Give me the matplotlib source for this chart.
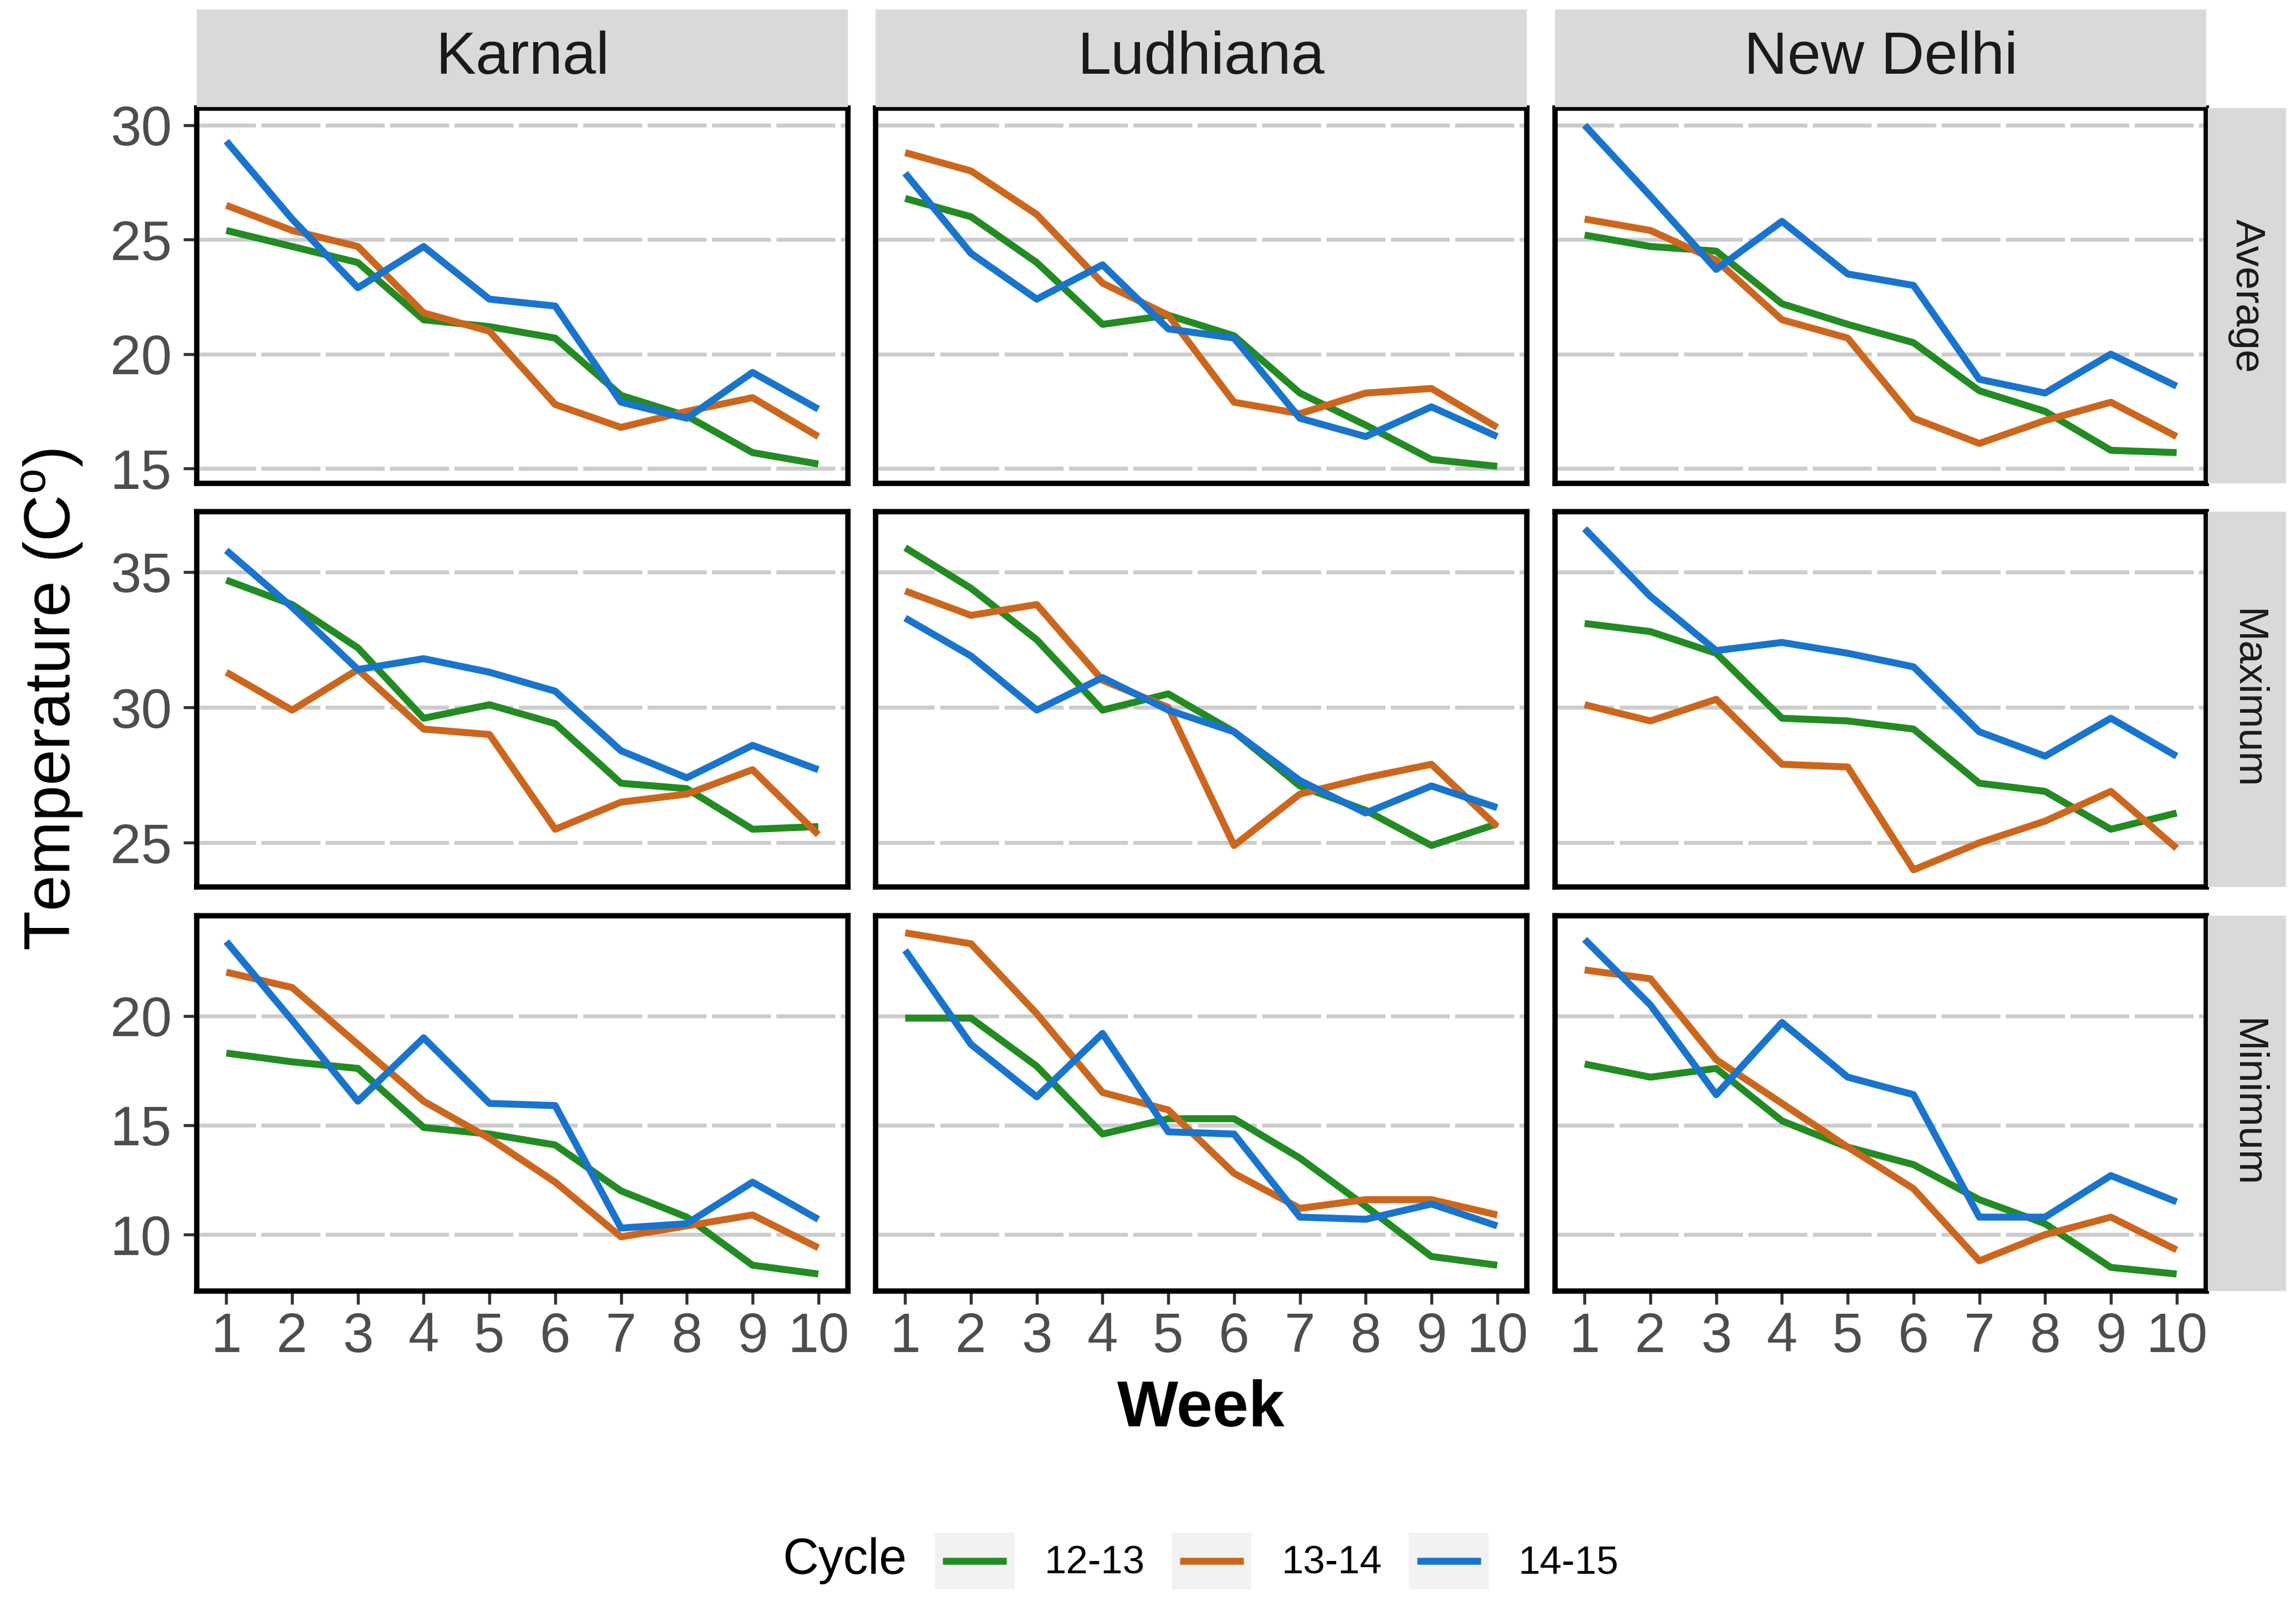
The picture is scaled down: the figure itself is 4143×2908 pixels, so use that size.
import matplotlib
matplotlib.use("Agg")
import matplotlib.pyplot as plt
from matplotlib.lines import Line2D
from matplotlib.patches import Rectangle
from matplotlib.ticker import MultipleLocator

plt.rcParams["font.family"] = ["Liberation Sans", "DejaVu Sans"]
plt.rcParams["mathtext.fontset"] = "custom"
plt.rcParams["mathtext.rm"] = "Liberation Sans"

# Data (weekly temperatures, deg C)
weeks = [1, 2, 3, 4, 5, 6, 7, 8, 9, 10]
cities = ["Karnal", "Ludhiana", "New Delhi"]
measures = ["Average", "Maximum", "Minimum"]
cycles = ["12-13", "13-14", "14-15"]
colors = ["#228B22", "#CD661D", "#1874CD"]

karnal_avg_1213 = [25.4, 24.7, 24.0, 21.5, 21.2, 20.7, 18.2, 17.3, 15.7, 15.2]
karnal_avg_1314 = [26.5, 25.4, 24.7, 21.8, 21.0, 17.8, 16.8, 17.5, 18.1, 16.4]
karnal_avg_1415 = [29.3, 25.9, 22.9, 24.7, 22.4, 22.1, 17.9, 17.2, 19.2, 17.6]

ludhiana_avg_1213 = [26.8, 26.0, 24.0, 21.3, 21.7, 20.8, 18.3, 16.9, 15.4, 15.1]
ludhiana_avg_1314 = [28.8, 28.0, 26.1, 23.1, 21.7, 17.9, 17.4, 18.3, 18.5, 16.8]
ludhiana_avg_1415 = [27.9, 24.4, 22.4, 23.9, 21.1, 20.7, 17.2, 16.4, 17.7, 16.4]

delhi_avg_1213 = [25.2, 24.7, 24.5, 22.2, 21.3, 20.5, 18.4, 17.5, 15.8, 15.7]
delhi_avg_1314 = [25.9, 25.4, 24.1, 21.5, 20.7, 17.2, 16.1, 17.1, 17.9, 16.4]
delhi_avg_1415 = [30.0, 26.9, 23.7, 25.8, 23.5, 23.0, 18.9, 18.3, 20.0, 18.6]

karnal_max_1213 = [34.7, 33.8, 32.2, 29.6, 30.1, 29.4, 27.2, 27.0, 25.5, 25.6]
karnal_max_1314 = [31.3, 29.9, 31.4, 29.2, 29.0, 25.5, 26.5, 26.8, 27.7, 25.3]
karnal_max_1415 = [35.8, 33.7, 31.4, 31.8, 31.3, 30.6, 28.4, 27.4, 28.6, 27.7]

ludhiana_max_1213 = [35.9, 34.4, 32.5, 29.9, 30.5, 29.1, 27.1, 26.2, 24.9, 25.7]
ludhiana_max_1314 = [34.3, 33.4, 33.8, 31.0, 30.0, 24.9, 26.8, 27.4, 27.9, 25.6]
ludhiana_max_1415 = [33.3, 31.9, 29.9, 31.1, 29.9, 29.1, 27.3, 26.1, 27.1, 26.3]

delhi_max_1213 = [33.1, 32.8, 32.0, 29.6, 29.5, 29.2, 27.2, 26.9, 25.5, 26.1]
delhi_max_1314 = [30.1, 29.5, 30.3, 27.9, 27.8, 24.0, 25.0, 25.8, 26.9, 24.8]
delhi_max_1415 = [36.6, 34.1, 32.1, 32.4, 32.0, 31.5, 29.1, 28.2, 29.6, 28.2]

karnal_min_1213 = [18.3, 17.9, 17.6, 14.9, 14.6, 14.1, 12.0, 10.8, 8.6, 8.2]
karnal_min_1314 = [22.0, 21.3, 18.7, 16.1, 14.4, 12.4, 9.9, 10.4, 10.9, 9.4]
karnal_min_1415 = [23.4, 19.8, 16.1, 19.0, 16.0, 15.9, 10.3, 10.5, 12.4, 10.7]

ludhiana_min_1213 = [19.9, 19.9, 17.7, 14.6, 15.3, 15.3, 13.5, 11.3, 9.0, 8.6]
ludhiana_min_1314 = [23.8, 23.3, 20.1, 16.5, 15.7, 12.8, 11.2, 11.6, 11.6, 10.9]
ludhiana_min_1415 = [23.0, 18.7, 16.3, 19.2, 14.7, 14.6, 10.8, 10.7, 11.4, 10.4]

delhi_min_1213 = [17.8, 17.2, 17.6, 15.2, 14.0, 13.2, 11.6, 10.5, 8.5, 8.2]
delhi_min_1314 = [22.1, 21.7, 18.0, 16.0, 14.0, 12.1, 8.8, 10.0, 10.8, 9.3]
delhi_min_1415 = [23.5, 20.5, 16.4, 19.7, 17.2, 16.4, 10.8, 10.8, 12.7, 11.5]

# (measure, city) -> series per cycle
panels = {
    ("Average", "Karnal"): [karnal_avg_1213, karnal_avg_1314, karnal_avg_1415],
    ("Average", "Ludhiana"): [ludhiana_avg_1213, ludhiana_avg_1314, ludhiana_avg_1415],
    ("Average", "New Delhi"): [delhi_avg_1213, delhi_avg_1314, delhi_avg_1415],
    ("Maximum", "Karnal"): [karnal_max_1213, karnal_max_1314, karnal_max_1415],
    ("Maximum", "Ludhiana"): [ludhiana_max_1213, ludhiana_max_1314, ludhiana_max_1415],
    ("Maximum", "New Delhi"): [delhi_max_1213, delhi_max_1314, delhi_max_1415],
    ("Minimum", "Karnal"): [karnal_min_1213, karnal_min_1314, karnal_min_1415],
    ("Minimum", "Ludhiana"): [ludhiana_min_1213, ludhiana_min_1314, ludhiana_min_1415],
    ("Minimum", "New Delhi"): [delhi_min_1213, delhi_min_1314, delhi_min_1415],
}

W, H = 4143, 2908
fig = plt.figure(figsize=(W / 300, H / 300), dpi=300)

col_left = [355, 1580, 2806]
col_w = 1175
row_top = [195, 923, 1652]
row_h = 677


def fig_rect(x0, y0, w, h):
    return [x0 / W, 1 - (y0 + h) / H, w / W, h / H]


strip_bg = "#D9D9D9"
axes = {}
for r, meas in enumerate(measures):
    vals = [v for c in cities for s in panels[(meas, c)] for v in s]
    lo, hi = min(vals), max(vals)
    pad = (hi - lo) * 0.05
    for c, city in enumerate(cities):
        ax = fig.add_axes(fig_rect(col_left[c], row_top[r], col_w, row_h))
        for series, cyc, col in zip(panels[(meas, city)], cycles, colors):
            ax.plot(weeks, series, color=col, lw=3.0, label=cyc,
                    solid_capstyle="butt", solid_joinstyle="round")
        ax.set_xlim(0.55, 10.45)
        ax.set_ylim(lo - pad, hi + pad)
        ax.yaxis.set_major_locator(MultipleLocator(5))
        ax.set_xticks(weeks)
        ax.yaxis.grid(True, color="#CCCCCC", lw=1.7, linestyle=(0, (15, 1.4)))
        ax.set_axisbelow(True)
        for sp in ax.spines.values():
            sp.set_linewidth(2.3)
            sp.set_color("black")
        ax.tick_params(axis="both", length=5.8, width=1.3, color="#333333",
                       labelsize=24, labelcolor="#4D4D4D")
        ax.tick_params(axis="y", pad=5)
        ax.tick_params(axis="x", pad=3)
        if c != 0:
            ax.tick_params(left=False, labelleft=False)
        if r != 2:
            ax.tick_params(bottom=False, labelbottom=False)
        axes[(r, c)] = ax

# top strips
for c, city in enumerate(cities):
    sax = fig.add_axes(fig_rect(col_left[c], 17, col_w, 176))
    sax.set_facecolor(strip_bg)
    sax.set_xticks([])
    sax.set_yticks([])
    for sp in sax.spines.values():
        sp.set_visible(False)
    sax.text(0.5, 0.5, city, ha="center", va="center", fontsize=26,
             color="#1A1A1A", transform=sax.transAxes)

# right strips
for r, meas in enumerate(measures):
    sax = fig.add_axes(fig_rect(3984, row_top[r], 141, row_h))
    sax.set_facecolor(strip_bg)
    sax.set_xticks([])
    sax.set_yticks([])
    for sp in sax.spines.values():
        sp.set_visible(False)
    sax.text(0.5, 0.5, meas, ha="center", va="center", fontsize=18,
             rotation=-90, color="#1A1A1A", transform=sax.transAxes)

fig.text(95 / W, 1 - 1262 / H, r"Temperature (C$^{\mathrm{o}}$)", rotation=90,
         ha="center", va="center", fontsize=28, color="black")
fig.text(2167 / W, 1 - 2542 / H, "Week", ha="center", va="center",
         fontsize=28, fontweight="bold", color="black")


class KeyHandler:
    def legend_artist(self, legend, orig_handle, fontsize, handlebox):
        x0, y0 = -handlebox.xdescent, -handlebox.ydescent
        w, h = handlebox.width, handlebox.height
        tr = handlebox.get_transform()
        rect = Rectangle((x0, y0), w, h, facecolor="#F2F2F2",
                         edgecolor="none", transform=tr)
        line = Line2D([x0 + 0.1 * w, x0 + 0.9 * w], [y0 + h / 2, y0 + h / 2],
                      color=orig_handle.get_color(), lw=3.0,
                      solid_capstyle="butt", transform=tr)
        handlebox.add_artist(rect)
        handlebox.add_artist(line)
        return line


leg_y = 1 - 2816 / H
handles = axes[(0, 0)].get_lines()
fig.text(1636 / W, leg_y, "Cycle", ha="right", va="center", fontsize=21.5,
         color="black")
fig.legend(handles=handles, labels=cycles, loc="center left",
           bbox_to_anchor=(1687 / W, leg_y), ncol=3, frameon=False,
           fontsize=17, handlelength=2.03, handleheight=1.84,
           handletextpad=0.76, columnspacing=0.69, borderpad=0,
           borderaxespad=0, handler_map={Line2D: KeyHandler()})

fig.savefig("out.png", dpi=300, facecolor="white")
